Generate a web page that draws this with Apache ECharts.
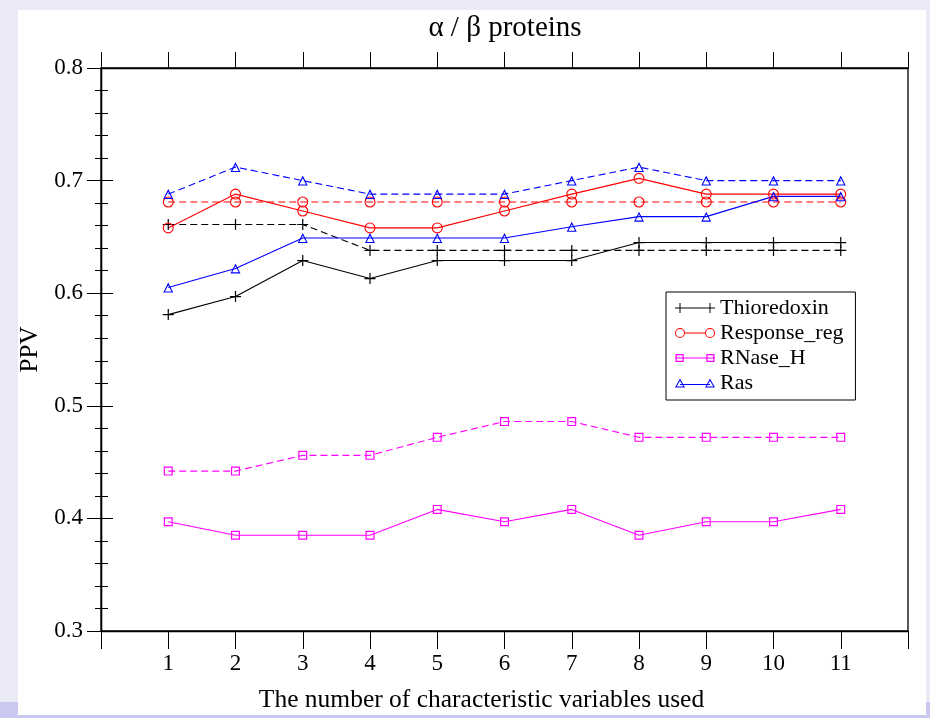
<!DOCTYPE html>
<html>
<head>
<meta charset="utf-8">
<script src="https://cdn.jsdelivr.net/npm/echarts@6/dist/echarts.min.js"></script>
<style>
html,body{margin:0;padding:0;background:#ebebf8;}
#chart{width:930px;height:718px;}
</style>
</head>
<body>
<div id="chart"></div>
<script>
var xValues = [1, 2, 3, 4, 5, 6, 7, 8, 9, 10, 11];
var thioSolid = [0.581, 0.597, 0.629, 0.613, 0.629, 0.629, 0.629, 0.645, 0.645, 0.645, 0.645];
var thioDashed = [0.661, 0.661, 0.661, 0.638, 0.638, 0.638, 0.638, 0.638, 0.638, 0.638, 0.638];
var respSolid = [0.658, 0.688, 0.673, 0.658, 0.658, 0.673, 0.688, 0.702, 0.688, 0.688, 0.688];
var respDashed = [0.681, 0.681, 0.681, 0.681, 0.681, 0.681, 0.681, 0.681, 0.681, 0.681, 0.681];
var rnaseSolid = [0.397, 0.385, 0.385, 0.385, 0.408, 0.397, 0.408, 0.385, 0.397, 0.397, 0.408];
var rnaseDashed = [0.442, 0.442, 0.456, 0.456, 0.472, 0.486, 0.486, 0.472, 0.472, 0.472, 0.472];
var rasSolid = [0.605, 0.622, 0.649, 0.649, 0.649, 0.649, 0.659, 0.668, 0.668, 0.686, 0.686];
var rasDashed = [0.688, 0.712, 0.700, 0.688, 0.688, 0.688, 0.700, 0.712, 0.700, 0.700, 0.700];
var legendNames = ['Thioredoxin', 'Response_reg', 'RNase_H', 'Ras'];
var xTickLabels = ['1','2','3','4','5','6','7','8','9','10','11'];

function pairs(vals) { return vals.map(function (v, i) { return [xValues[i], v]; }); }

var SYM_PLUS = 'path://M0,4.45H10V5.55H0Z M4.45,0H5.55V10H4.45Z';
var SYM_CIRCLE = 'path://M5,0A5,5 0 1,1 5,10A5,5 0 1,1 5,0Z M5,1A4,4 0 1,0 5,9A4,4 0 1,0 5,1Z';
var SYM_SQUARE = 'path://M0,0H10V10H0Z M1.3,1.3V8.7H8.7V1.3Z';
var SYM_TRI = 'path://M5,0L10,9L0,9Z M5,2.3L1.7,8H8.3Z';

// legend icons: line with a marker at each end (40 x 10 box)
var ICON_PLUS = 'path://M0,4.5H40V5.5H0Z M4.5,0H5.5V10H4.5Z M34.5,0H35.5V10H34.5Z';
var ICON_CIRCLE = 'path://M5,0A5,5 0 1,1 5,10A5,5 0 1,1 5,0Z M5,1A4,4 0 1,0 5,9A4,4 0 1,0 5,1Z ' +
  'M35,0A5,5 0 1,1 35,10A5,5 0 1,1 35,0Z M35,1A4,4 0 1,0 35,9A4,4 0 1,0 35,1Z M10,4.5H30V5.5H10Z';
var ICON_SQUARE = 'path://M1,1H9V9H1Z M2.2,2.2V7.8H7.8V2.2Z M31,1H39V9H31Z M32.2,2.2V7.8H37.8V2.2Z M0.5,4.5H39.5V5.5H0.5Z';
var ICON_TRI = 'path://M5,0L10,9L0,9Z M5,2.3L1.7,8H8.3Z M35,0L40,9L30,9Z M35,2.3L31.7,8H38.3Z M5,5.5H35V6.5H5Z';

var serif = 'Liberation Serif';

function mk(name, data, color, sym, size, dashed) {
  return {
    name: name,
    type: 'line',
    data: pairs(data),
    symbol: sym,
    symbolSize: size,
    showSymbol: true,
    animation: false,
    lineStyle: { color: color, width: 1.1, type: dashed ? [7, 4] : 'solid' },
    itemStyle: { color: color },
    emphasis: { disabled: true }
  };
}

var chart = echarts.init(document.getElementById('chart'));
chart.setOption({
  backgroundColor: '#ebebf8',
  animation: false,
  graphic: [
    { type: 'rect', z: -10, silent: true, shape: { x: 18, y: 10, width: 908, height: 705 }, style: { fill: '#ffffff' } },
    { type: 'rect', z: -10, silent: true, shape: { x: 0, y: 715, width: 930, height: 3 }, style: { fill: '#c8c8f0' } },
    { type: 'rect', z: -10, silent: true, shape: { x: 0, y: 702, width: 18, height: 16 }, style: { fill: '#c8c8f0' } },
    { type: 'rect', z: -10, silent: true, shape: { x: 926, y: 702, width: 4, height: 16 }, style: { fill: '#c8c8f0' } }
  ],
  title: {
    text: 'α / β proteins',
    left: 500,
    top: 9,
    textAlign: 'center',
    textStyle: { fontFamily: serif, fontSize: 29, fontWeight: 'normal', color: '#000' }
  },
  grid: { left: 101, right: 22, top: 68, bottom: 87, show: true, borderColor: '#000', borderWidth: 1.3, backgroundColor: 'transparent' },
  legend: {
    data: [
      { name: 'Thioredoxin', icon: ICON_PLUS },
      { name: 'Response_reg', icon: ICON_CIRCLE },
      { name: 'RNase_H', icon: ICON_SQUARE },
      { name: 'Ras', icon: ICON_TRI }
    ],
    orient: 'vertical',
    left: 666,
    top: 292,
    padding: [5, 12, 6, 9],
    itemGap: 3,
    itemWidth: 40,
    itemHeight: 10,
    backgroundColor: '#fff',
    borderColor: '#000',
    borderWidth: 1,
    textStyle: { fontFamily: serif, fontSize: 22, color: '#000' }
  },
  xAxis: [
    {
      type: 'value', position: 'bottom', min: 0, max: 12, interval: 1,
      name: 'The number of characteristic variables used',
      nameLocation: 'middle', nameGap: 56,
      nameTextStyle: { fontFamily: serif, fontSize: 25.5, color: '#000', padding: [0, 46, 0, 0] },
      axisLine: { show: true, lineStyle: { color: '#000', width: 1.3 } },
      axisTick: { show: true, inside: false, length: 18, lineStyle: { color: '#000' } },
      axisLabel: {
        margin: 21, fontFamily: serif, fontSize: 23, color: '#000',
        formatter: function (v) { return (v >= 1 && v <= 11) ? xTickLabels[v - 1] : ''; }
      },
      splitLine: { show: false }
    },
    {
      type: 'value', position: 'top', min: 0, max: 12, interval: 1,
      axisLine: { show: true, lineStyle: { color: '#000', width: 1.3 } },
      axisTick: { show: true, inside: false, length: 16, lineStyle: { color: '#000' } },
      axisLabel: { show: false },
      splitLine: { show: false }
    }
  ],
  yAxis: [
    {
      type: 'value', position: 'left', min: 0.3, max: 0.8, interval: 0.1,
      name: 'PPV', nameLocation: 'middle', nameGap: 51,
      nameTextStyle: { fontFamily: serif, fontSize: 25, color: '#000' },
      axisLine: { show: true, lineStyle: { color: '#000', width: 1.3 } },
      axisTick: { show: true, inside: false, length: 14, lineStyle: { color: '#000' } },
      minorTick: { show: true, splitNumber: 5, length: 6, lineStyle: { color: '#000' } },
      axisLabel: { margin: 18, fontFamily: serif, fontSize: 23, color: '#000', formatter: function (v) { return v.toFixed(1); } },
      splitLine: { show: false }
    },
    {
      type: 'value', position: 'right', min: 0.3, max: 0.8, interval: 0.1,
      axisLine: { show: true, lineStyle: { color: '#000', width: 1.3 } },
      axisTick: { show: true, inside: false, length: 12, lineStyle: { color: '#000' } },
      minorTick: { show: true, splitNumber: 5, length: 7, lineStyle: { color: '#000' } },
      axisLabel: { show: false },
      splitLine: { show: false }
    }
  ],
  series: [
    mk('Thioredoxin (all)', thioDashed, '#000000', SYM_PLUS, 11, true),
    mk('Response_reg (all)', respDashed, '#ff0000', SYM_CIRCLE, 11, true),
    mk('RNase_H (all)', rnaseDashed, '#ff00ff', SYM_SQUARE, 9, true),
    mk('Ras (all)', rasDashed, '#0000ff', SYM_TRI, 10, true),
    mk('Thioredoxin', thioSolid, '#000000', SYM_PLUS, 11, false),
    mk('Response_reg', respSolid, '#ff0000', SYM_CIRCLE, 11, false),
    mk('RNase_H', rnaseSolid, '#ff00ff', SYM_SQUARE, 9, false),
    mk('Ras', rasSolid, '#0000ff', SYM_TRI, 10, false)
  ]
});
</script>
</body>
</html>
